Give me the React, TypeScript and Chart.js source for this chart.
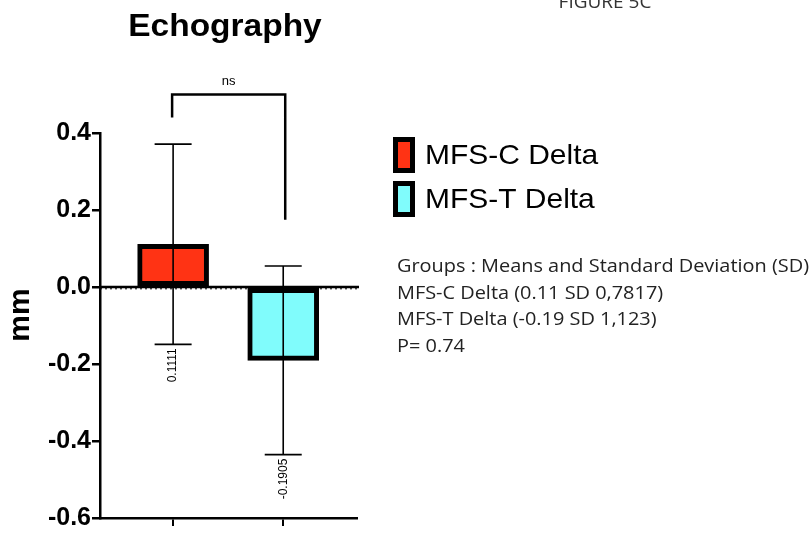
import React, { useEffect, useRef } from "react";
import { Chart, registerables } from "chart.js";

Chart.register(...registerables);

const categories = ["MFS-C Delta", "MFS-T Delta"];
const means = [0.1111, -0.1905];
const errors = [0.26, 0.245];
const valueLabels = ["0.1111", "-0.1905"];
const barColors = ["#FF3314", "#80FCFC"];
const yTicks = [-0.6, -0.4, -0.2, 0.0, 0.2, 0.4];
const yTickLabels = ["-0.6", "-0.4", "-0.2", "0.0", "0.2", "0.4"];
const titleText = "Echography";
const figureText = "FIGURE 5C";
const yAxisTitle = "mm";
const significanceText = "ns";
const bracketLeftEnd = 0.44;
const bracketRightEnd = 0.175;
const bracketTop = 0.5;
const statLines = [
  "Groups : Means and Standard Deviation (SD)",
  "MFS-C Delta (0.11 SD 0,7817)",
  "MFS-T Delta (-0.19 SD 1,123)",
  "P= 0.74",
];

const SANS = "'Liberation Sans', Arial, Helvetica, sans-serif";
const BODY = "'Open Sans', sans-serif";

const overlayPlugin = {
  id: "overlay",
  afterDatasetsDraw(chart: any) {
    const ctx = chart.ctx as CanvasRenderingContext2D;
    const xs = chart.scales.x;
    const ys = chart.scales.y;
    ctx.save();
    // zero line
    const y0 = ys.getPixelForValue(0);
    ctx.strokeStyle = "#000";
    ctx.lineWidth = 2.5;
    ctx.beginPath();
    ctx.moveTo(xs.left, y0);
    ctx.lineTo(xs.right + 2, y0);
    ctx.stroke();
    ctx.lineWidth = 1;
    ctx.setLineDash([2, 3]);
    ctx.beginPath();
    ctx.moveTo(xs.left, y0 + 1.8);
    ctx.lineTo(xs.right, y0 + 1.8);
    ctx.stroke();
    ctx.setLineDash([]);

    // error bars
    means.forEach((m, i) => {
      const x = xs.getPixelForValue(i + 1);
      const yt = ys.getPixelForValue(m + errors[i]);
      const yb = ys.getPixelForValue(m - errors[i]);
      ctx.strokeStyle = "#000";
      ctx.lineWidth = 1.6;
      ctx.beginPath();
      ctx.moveTo(x, yt);
      ctx.lineTo(x, yb);
      ctx.moveTo(x - 18.5, yt);
      ctx.lineTo(x + 18.5, yt);
      ctx.moveTo(x - 18.5, yb);
      ctx.lineTo(x + 18.5, yb);
      ctx.stroke();
      // rotated value labels
      ctx.save();
      ctx.translate(x, yb + 4);
      ctx.rotate(-Math.PI / 2);
      ctx.fillStyle = "#000";
      ctx.font = `12px ${SANS}`;
      ctx.textAlign = "right";
      ctx.textBaseline = "middle";
      ctx.fillText(valueLabels[i], 0, 0);
      ctx.restore();
    });

    // significance bracket
    const xl = xs.getPixelForValue(1) - 1;
    const xr = xs.getPixelForValue(2) + 2;
    const yTop = ys.getPixelForValue(bracketTop);
    ctx.lineWidth = 2.5;
    ctx.beginPath();
    ctx.moveTo(xl, ys.getPixelForValue(bracketLeftEnd));
    ctx.lineTo(xl, yTop);
    ctx.lineTo(xr, yTop);
    ctx.lineTo(xr, ys.getPixelForValue(bracketRightEnd));
    ctx.stroke();
    ctx.fillStyle = "#000";
    ctx.font = `13px ${SANS}`;
    ctx.textAlign = "center";
    ctx.textBaseline = "alphabetic";
    ctx.fillText(significanceText, (xl + xr) / 2, yTop - 10);
    ctx.restore();
  },
  afterDraw(chart: any) {
    const ctx = chart.ctx as CanvasRenderingContext2D;
    ctx.save();
    // title
    ctx.fillStyle = "#000";
    ctx.textAlign = "center";
    ctx.textBaseline = "alphabetic";
    ctx.save();
    ctx.translate(225, 36);
    ctx.scale(1.08, 1);
    ctx.font = `bold 31px ${SANS}`;
    ctx.fillText(titleText, 0, 0);
    ctx.restore();
    // figure label
    ctx.fillStyle = "#333";
    ctx.font = `19px ${BODY}`;
    ctx.fillText(figureText, 605, 8);
    // y axis title
    ctx.save();
    ctx.translate(29, 315);
    ctx.rotate(-Math.PI / 2);
    ctx.fillStyle = "#000";
    ctx.font = `bold 30px ${SANS}`;
    ctx.textAlign = "center";
    ctx.fillText(yAxisTitle, 0, 0);
    ctx.restore();
    // legend
    const boxTops = [137, 181];
    categories.forEach((c, i) => {
      const top = boxTops[i];
      ctx.fillStyle = "#000";
      ctx.fillRect(393, top, 22, 36);
      ctx.fillStyle = barColors[i];
      ctx.fillRect(398, top + 5, 12, 26);
      ctx.fillStyle = "#000";
      ctx.textAlign = "left";
      ctx.textBaseline = "middle";
      ctx.save();
      ctx.translate(425, top + 19);
      ctx.scale(1.07, 1);
      ctx.font = `28px ${SANS}`;
      ctx.fillText(c, 0, 0);
      ctx.restore();
    });
    // stats text
    ctx.fillStyle = "#222";
    ctx.font = `18px ${BODY}`;
    ctx.textAlign = "left";
    ctx.textBaseline = "middle";
    const w0 = ctx.measureText(statLines[0]).width;
    const sx = 412 / w0;
    statLines.forEach((t, i) => {
      ctx.save();
      ctx.translate(397, 267 + i * 26.5);
      ctx.scale(sx, 1);
      ctx.fillText(t, 0, 0);
      ctx.restore();
    });
    ctx.restore();
  },
};

export default function App() {
  const ref = useRef<HTMLCanvasElement | null>(null);
  useEffect(() => {
    if (!ref.current) return;
    const chart = new Chart(ref.current, {
      type: "bar",
      data: {
        datasets: [
          {
            label: "Delta",
            data: means.map((m, i) => ({ x: i + 1, y: m })),
            backgroundColor: barColors,
            borderColor: "#000",
            borderWidth: 5,
            borderSkipped: false,
            barThickness: 71,
          },
        ],
      },
      options: {
        animation: false,
        responsive: false,
        devicePixelRatio: 1,
        layout: { padding: { left: 0, top: 133, right: 453, bottom: 0 } },
        plugins: { legend: { display: false }, tooltip: { enabled: false }, title: { display: false } },
        scales: {
          x: {
            type: "linear",
            min: 0.336,
            max: 2.67,
            offset: false,
            afterBuildTicks: (s: any) => {
              s.ticks = categories.map((_, i) => ({ value: i + 1 }));
            },
            afterFit: (s: any) => {
              s.height = 16;
            },
            ticks: { callback: () => "", padding: 0 },
            grid: { offset: false, drawOnChartArea: false, tickLength: 8, color: "#000", lineWidth: 2 },
            border: { color: "#000", width: 2.5 },
          },
          y: {
            min: -0.6,
            max: 0.4,
            afterBuildTicks: (s: any) => {
              s.ticks = yTicks.map((v) => ({ value: v }));
            },
            afterFit: (s: any) => {
              s.width = 100;
            },
            ticks: {
              callback: (v: any) => yTickLabels[yTicks.findIndex((t) => Math.abs(t - v) < 1e-6)] ?? "",
              font: { family: SANS, size: 25, weight: "bold" },
              color: "#000",
              padding: 1,
            },
            grid: { drawOnChartArea: false, tickLength: 8, color: "#000", lineWidth: 2.5 },
            border: { color: "#000", width: 2.5 },
          },
        },
      },
      plugins: [overlayPlugin],
    } as any);
    return () => chart.destroy();
  }, []);
  return (
    <div style={{ position: "fixed", left: 0, top: 0, width: 810, height: 534, background: "#fff" }}>
      <canvas ref={ref} width={810} height={534} style={{ width: 810, height: 534 }} />
    </div>
  );
}
